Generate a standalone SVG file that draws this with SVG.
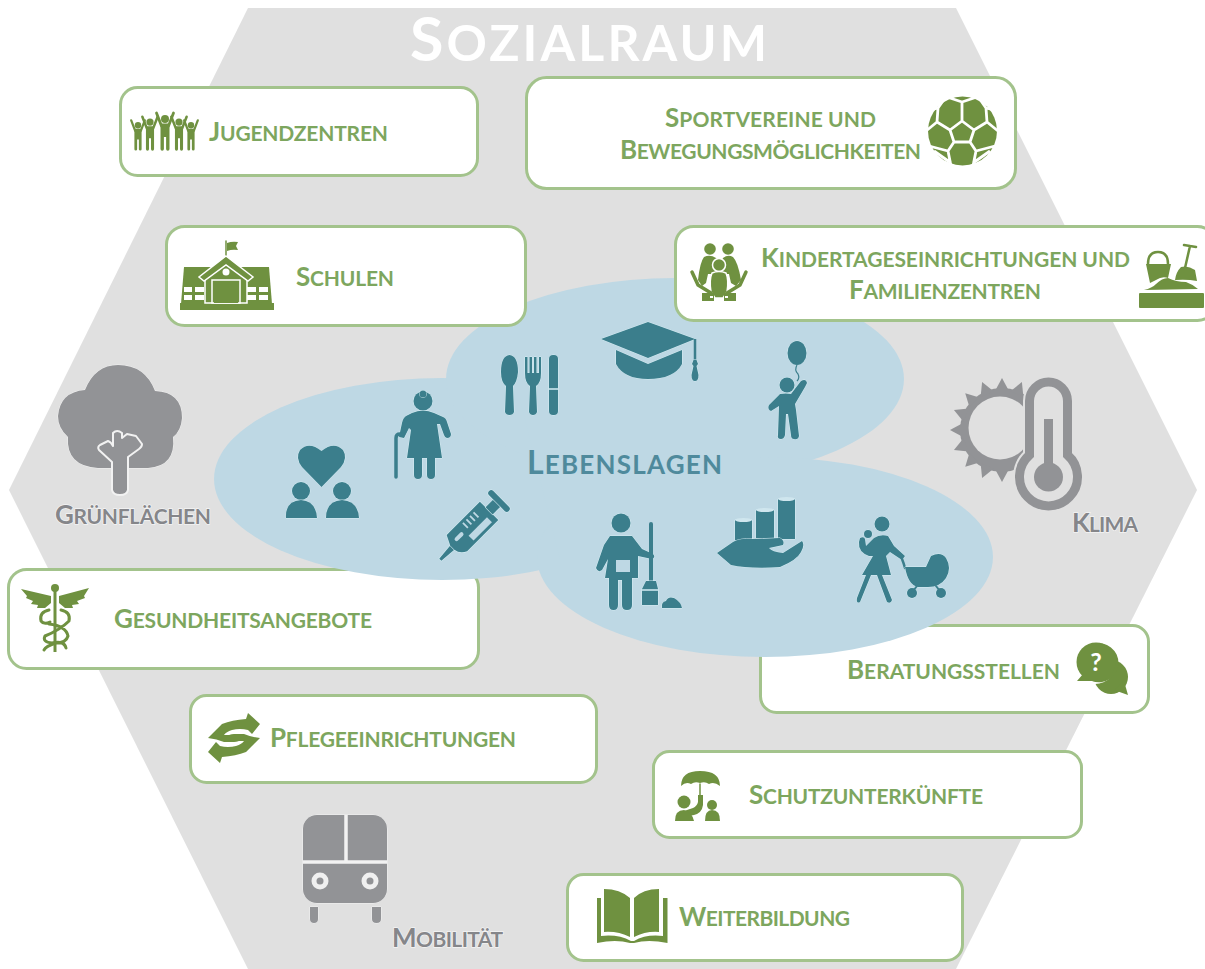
<svg xmlns="http://www.w3.org/2000/svg" xmlns:xlink="http://www.w3.org/1999/xlink" width="1205" height="969" viewBox="0 0 1205 969">
<style>
text{font-family:"Lato","Open Sans","Liberation Sans",sans-serif;font-weight:700}
.sc{text-transform:uppercase}
.lab{fill:#7da65e;font-size:26px}
.lab .sc,.grey .sc{font-size:21px}
.grey{fill:#85868a;font-size:26px;stroke:#f4f4f4;stroke-width:1.4px;paint-order:stroke}
.box{fill:#fff;stroke:#a3c38c;stroke-width:3}
.g{fill:#6f9140}
.gs{fill:none;stroke:#6f9140;stroke-linecap:round;stroke-linejoin:round}
.t{fill:#3b7e8c;stroke:#d6eef4;stroke-width:1;paint-order:stroke}
.ts{fill:none;stroke:#3b7e8c;stroke-linecap:round;stroke-linejoin:round}
.k{fill:#929396;stroke:#f2f2f2;stroke-width:1;paint-order:stroke}
</style>
<defs>
<g id="person"><circle cx="0" cy="-31" r="4"/><path d="M-4.500,-26.500H4.500V-1a1.700,1.700 0 0 1-3.400,0V-13H-1.100V-1a1.700,1.700 0 0 1-3.400,0Z"/><path d="M-3.500,-24L-8.500,-37M3.500,-24L8.500,-37" fill="none" stroke="#6f9140" stroke-width="2.800" stroke-linecap="round"/></g>
<path id="tooth" d="M1041,423L1054,430L1041,437Z"/>
<path id="carehand" d="M208,738L222,724Q232,720 246,719L248,713L260,724L252,734L248,730Q240,728 232,730Q226,732 224,735H238Q243,736 241,739Q239,742 234,742H224Q217,739 208,738Z"/>
</defs>

<polygon id="hexagon" points="248,8 956,8 1197,490 956,969 248,969 9,490" fill="#e0e0e0"/>
<text id="title" x="410" y="61" font-size="61" fill="#fff" textLength="357" lengthAdjust="spacing">S<tspan class="sc" font-size="50">ozialraum</tspan></text>

<g id="node-jugendzentren">
<rect class="box" x="120.500" y="87.500" width="357" height="88" rx="17"/>
<g class="g"><use href="#person" transform="translate(138,150) scale(.8)"/><use href="#person" transform="translate(191,150) scale(.8)"/><use href="#person" transform="translate(150,150) scale(.9)"/><use href="#person" transform="translate(179,150) scale(.9)"/><use href="#person" transform="translate(165,150)"/></g>
<text class="lab" x="209" y="141" textLength="179" lengthAdjust="spacing">J<tspan class="sc">ugendzentren</tspan></text>
</g>

<g id="node-sportvereine">
<rect class="box" x="526.500" y="77.500" width="489" height="111" rx="20"/>
<ellipse class="g" cx="962.500" cy="131" rx="34.500" ry="34.500"/>
<path d="M962,121L974,130L970,142L954,142L950,130Z M962,121V102M974,130L987,122M970,142L976,151M954,142L948,151M950,130L937,122M962,102L947,97M962,102L977,97M987,122L986,108L979,98M937,122L938,108L945,98M986,108L994,110M938,108L930,110M987,122L998,131M937,122L926,131M976,151L995,146M948,151L929,146M976,151L973,166M948,151L951,166M973,163L990,151M951,163L934,151" fill="none" stroke="#fff" stroke-width="2.800" stroke-linejoin="round"/>
<text class="lab" x="665" y="127" textLength="211" lengthAdjust="spacing">S<tspan class="sc">portvereine und</tspan></text>
<text class="lab" x="620" y="159" textLength="301" lengthAdjust="spacing">B<tspan class="sc">ewegungsmöglichkeiten</tspan></text>
</g>

<g id="node-gesundheitsangebote">
<rect class="box" x="8.500" y="569.500" width="470" height="99" rx="18"/>
<circle class="g" cx="55" cy="588" r="4"/>
<path class="g" d="M53.500,590h3V652h-3Z"/>
<path class="g" d="M51,596L21,589L27,596L26,598L33,601L31,604L38,605L37,608L45,608L51,603Z"/>
<path class="g" d="M59,596L89,588L84,596L85,598L77,601L79,604L72,605L73,608L65,608L59,603Z"/>
<path class="gs" stroke-width="3" d="M49,610Q39,612 41,621Q44,625 50,622M61,610Q71,612 69,621Q60,630 45,636Q42,642 52,643Q64,640 66,648M49,624Q66,626 68,636Q66,643 56,643Q46,646 44,650"/>
<text class="lab" x="114" y="628" textLength="258" lengthAdjust="spacing">G<tspan class="sc">esundheitsangebote</tspan></text>
</g>

<g id="node-beratungsstellen">
<rect class="box" x="760.500" y="625.500" width="388" height="87" rx="16"/>
<circle class="g" cx="1111" cy="677" r="17"/>
<path class="g" d="M1114,690L1128,695L1124,681Z"/>
<circle cx="1095" cy="662" r="22" fill="#fff"/>
<path class="g" d="M1077,681L1083,674A19.500,19.500 0 1 1 1092,681Z"/>
<circle class="g" cx="1096" cy="662" r="19.500"/>
<text x="1096" y="671" font-size="25" fill="#fff" text-anchor="middle">?</text>
<text class="lab" x="847" y="679" textLength="213" lengthAdjust="spacing">B<tspan class="sc">eratungsstellen</tspan></text>
</g>

<g id="lebenslagen-cloud" fill="#bed8e4">
<ellipse cx="442" cy="479" rx="228" ry="101"/>
<ellipse cx="675" cy="379" rx="229" ry="101"/>
<ellipse cx="765" cy="557" rx="228" ry="100"/>
<path d="M520,400H760V560H560Z"/>
</g>
<text id="lebenslagen" x="527" y="474" font-size="32" fill="#4f8a9c" textLength="195" lengthAdjust="spacing">L<tspan class="sc" font-size="26">ebenslagen</tspan></text>

<g id="icon-heart" class="t">
<path d="M321.500,487L302,467Q295,458 300,450Q309,441 321.500,451Q334,441 343,450Q348,458 341,467Z"/>
<circle cx="301" cy="491" r="9"/><path d="M286,518Q285,501 301,500Q316,501 317,518Z"/>
<circle cx="342" cy="491" r="9"/><path d="M326,518Q326,501 342,500Q358,501 359,518Z"/>
</g>
<g id="icon-grandma" class="t">
<circle cx="423" cy="401" r="9.500"/><circle cx="423" cy="394" r="3.500"/>
<path d="M412,413Q423,408 434,413L443,417Q446,418 447,422L451,434Q451,438 447,438Q445,438 444,435L440,424L437,424L442,458L435,458V475Q435,479 431,479Q427,479 427,475V458H422V475Q422,479 418,479Q414,479 414,475V458H407L411,430L409,428L404,438L399,437L402,423Q403,418 406,416Z"/>
<path class="ts" stroke-width="3.500" d="M396,477V438Q396,434 400,434H403"/>
</g>
<g id="icon-cutlery" class="t">
<path d="M509.500,355Q518,356 518,372Q517,382 513,386L514,412Q513,415 509.500,415Q506,415 505,412L506,386Q501,382 501,372Q501,356 509.500,355Z"/>
<path d="M525,357h2.500V373h2V357h2.500V373h2V357h2.500V373h2.500V357H541V373Q541,383 536,386L537,412Q536,415 533,415Q530,415 529,412L530,386Q525,383 525,373Z"/>
<rect x="549" y="355" width="9" height="60" rx="4"/>
<path d="M549,389H558" stroke="#d6eef4" stroke-width="1.500" fill="none"/>
</g>
<g id="icon-hat" class="t">
<path d="M616,350L648,364L682,350V364Q674,379 648,379Q624,379 616,364Z"/>
<path d="M648,322L695,339L648,358L601,339Z"/>
<path d="M695,339V362" fill="none" stroke="#3b7e8c" stroke-width="2.500"/>
<path d="M693.500,360h3l1.500,4l-1.500,2l2,9q0,6-3.500,6t-3.500-6l2-9l-1.500-2Z"/>
</g>
<g id="icon-child" class="t">
<ellipse cx="797" cy="353" rx="9.500" ry="12"/>
<path d="M797,365Q794,370 798,374Q800,378 797,381" fill="none" stroke="#3b7e8c" stroke-width="1.200"/>
<circle cx="787" cy="385" r="7.500"/>
<path d="M780,394Q786,393 791,394L801,381Q806,378 807,383L805,387L795,404L796,410L799,436Q798,440 794,439Q791,439 791,435L788,414H786L785,435Q784,439 781,439Q777,439 778,435L779,406L771,411Q767,409 769,405Z"/>
</g>
<g id="icon-syringe" class="t" transform="rotate(-45 470 530)">
<path d="M428,528.500L446,527V533L428,531.500Z"/>
<path d="M445,527L450,517H497V543H453Q446,540 445,533Z"/>
<path d="M497,525H508V535H497Z"/>
<rect x="508" y="516" width="6" height="28" rx="3"/>
<rect x="465" y="533" width="26" height="7" fill="#bed8e4" stroke="none"/>
<rect x="452" y="525" width="11" height="4" rx="2" fill="#bed8e4" stroke="none"/>
<path d="M470,520v7M475,520v7M480,520v7M485,520v7" stroke="#bed8e4" stroke-width="1.800" fill="none"/>
</g>
<g id="icon-cleaner" class="t">
<circle cx="621" cy="523" r="9.500"/>
<path d="M610,536H632L642,549L653,554Q656,557 652,559L638,556L638,578H632V605Q632,610 627,610Q622,610 622,605V580H618V605Q618,610 613.500,610Q609,610 609,605V578H605L608,559L602,570Q598,573 596,568L604,545Z"/>
<rect x="616" y="560" width="14" height="12" fill="#bed8e4" stroke="none"/>
<path class="ts" stroke-width="4" d="M651,524V582"/>
<path d="M646,581H656L658,589V605H642V589Z"/>
<path d="M642,590H658" stroke="#d6eef4" stroke-width="1.500" fill="none"/>
<path d="M662,608Q661,602 666,601Q668,596 674,598Q681,602 682,608Z"/>
</g>
<g id="icon-coins" class="t">
<path d="M735,520h17v20h-17Z"/><path d="M756,510h18v28h-18Z"/><path d="M778,499h17v40h-17Z"/>
<ellipse cx="743.500" cy="520" rx="8.500" ry="2" fill="#cfe6ee" stroke="none"/><ellipse cx="765" cy="510" rx="9" ry="2" fill="#cfe6ee" stroke="none"/><ellipse cx="786.500" cy="499" rx="8.500" ry="2" fill="#cfe6ee" stroke="none"/>
<path d="M717,553L733,542Q740,538 752,539L780,538Q785,541 783,545L769,548Q772,552 783,553L802,541Q805,545 801,552Q797,560 780,567Q750,569 731,565Z"/>
</g>
<g id="icon-mother" class="t">
<circle cx="882" cy="524" r="7.500"/><circle cx="868" cy="534" r="4"/>
<path d="M860,538Q864,536 865,539L866,546L874,538Q880,534 888,536L894,546L905,556L902,560L890,552L886,556L891,575L882,575L892,600Q891,604 887,602L877,575H871L860,602Q856,604 857,598L866,575H862L873,556L869,556Q858,552 859,542Z"/>
<path class="ts" stroke-width="2.500" d="M902,559Q904,564 905,568"/>
<path d="M905,567H926L931,556Q941,551 946,558Q952,568 946,578Q940,587 928,587H918Q908,585 905,567Z"/>
<circle cx="912" cy="593" r="5"/><circle cx="941" cy="593" r="5"/>
<path class="ts" stroke-width="2" d="M917,586L913,591M936,586L940,591"/>
</g>

<g id="node-schulen">
<rect class="box" x="166.500" y="226.500" width="359" height="99" rx="18"/>
<path class="g" d="M184,267H269L272,304H181Z"/><rect class="g" x="180" y="303" width="94" height="7"/>
<path class="gs" stroke-width="1.500" d="M226,241V257"/><path class="g" d="M227,243Q232,241 238,242L236,246L238,250Q232,249 227,251Z"/>
<path class="g" stroke="#fff" stroke-width="1.500" d="M226,263L247,279V303H205V279Z"/>
<path class="g" stroke="#fff" stroke-width="1.500" d="M226,256L253,277L248,281L226,265L204,281L199,277Z"/>
<circle cx="226" cy="272" r="3.500" fill="#fff"/>
<rect class="g" x="212" y="280" width="28" height="23" stroke="#fff" stroke-width="1.500"/>
<rect class="g" x="214" y="283" width="24" height="20"/>
<path fill="#fff" d="M184,287h8v5h-8zM195,287h9v5h-9zM184,295h8v5h-8zM195,295h9v5h-9zM247,287h9v5h-9zM259,287h9v5h-9zM247,295h9v5h-9zM259,295h9v5h-9z"/>
<text class="lab" x="296" y="286" textLength="98" lengthAdjust="spacing">S<tspan class="sc">chulen</tspan></text>
</g>

<g id="node-kindertageseinrichtungen">
<rect class="box" x="675.500" y="226.500" width="540" height="94" rx="18"/>
<circle class="g" cx="710" cy="249" r="5.800"/><circle class="g" cx="728" cy="249" r="5.800"/>
<path class="g" d="M704,257Q710,254 716,258L721,262L723,258Q728,254 733,257Q738,262 741,280L736,286L731,283L729,274L708,274L706,283L702,286L698,280Q700,262 704,257Z"/>
<circle class="g" cx="719" cy="265" r="6.500" stroke="#fff" stroke-width="1.500"/>
<path class="g" stroke="#fff" stroke-width="1.500" d="M712,273Q719,270 726,273Q729,280 727,292L723,298H715L711,292Q709,280 712,273Z"/>
<path class="gs" stroke-width="3.500" d="M692,272L698,285L711,293M746,272L740,285L727,293"/>
<path class="g" d="M702,293H714V301H702ZM724,293H736V301H724Z"/>
<path fill="#fff" d="M710,296h3v2h-3zM725,296h3v2h-3z"/>
<text class="lab" x="761" y="267" textLength="369" lengthAdjust="spacing">K<tspan class="sc">indertageseinrichtungen und</tspan></text>
<text class="lab" x="849" y="299" textLength="192" lengthAdjust="spacing">F<tspan class="sc">amilienzentren</tspan></text>
<rect class="g" x="1139" y="293" width="65" height="15" rx="1"/>
<path class="g" d="M1144,290Q1152,288 1156,284Q1162,278 1168,278Q1176,282 1186,282Q1192,284 1198,289Z"/>
<path class="gs" stroke-width="2.500" d="M1148,264Q1148,252 1158,252Q1168,252 1168,264"/>
<path class="g" d="M1146,264H1171L1168,278Q1162,276 1156,280L1150,283Z"/>
<path class="gs" stroke-width="2.500" d="M1190,246L1185,268M1184,245L1196,247"/>
<path class="g" d="M1181,267Q1188,265 1195,270L1197,281Q1187,279 1175,280Q1176,272 1181,267Z"/>
</g>

<g id="node-gruenflaechen">
<path class="k" d="M118,365Q145,365 155,391Q182,392 182,418Q181,431 173,437Q176,466 148,468H98Q66,466 68,437Q58,428 58,416Q60,392 85,390Q95,365 118,365Z"/>
<path fill="#929396" stroke="#f2f2f2" stroke-width="2" stroke-linejoin="round" d="M112,490V462L99,450Q97,447 100,445L108,441Q111,442 113,446V433Q117,429 122,433V438L127,434L136,436L142,444Q142,447 139,449L128,457V490Q127,495 120,495Q113,495 112,490Z"/>
<text class="grey" x="55" y="524" textLength="156" lengthAdjust="spacing">G<tspan class="sc">rünflächen</tspan></text>
</g>

<g id="node-klima">
<g fill="#929396">
<circle cx="1002" cy="430" r="42"/>
<use href="#tooth" transform="rotate(90 1002 430)"/><use href="#tooth" transform="rotate(112.500 1002 430)"/><use href="#tooth" transform="rotate(135 1002 430)"/><use href="#tooth" transform="rotate(157.500 1002 430)"/><use href="#tooth" transform="rotate(180 1002 430)"/><use href="#tooth" transform="rotate(202.500 1002 430)"/><use href="#tooth" transform="rotate(225 1002 430)"/><use href="#tooth" transform="rotate(247.500 1002 430)"/><use href="#tooth" transform="rotate(270 1002 430)"/><use href="#tooth" transform="rotate(292.500 1002 430)"/><use href="#tooth" transform="rotate(315 1002 430)"/>
</g>
<circle cx="1000" cy="428" r="31.500" fill="#e0e0e0"/>
<path d="M1029.500,401A19,19 0 0 1 1067.500,401V455A29,29 0 1 1 1029.500,455Z" fill="#e0e0e0" stroke="#e0e0e0" stroke-width="13"/>
<path d="M1029.500,401A19,19 0 0 1 1067.500,401V455A29,29 0 1 1 1029.500,455Z" fill="#e0e0e0" stroke="#929396" stroke-width="9"/>
<rect x="1044" y="419" width="9" height="50" fill="#929396"/>
<circle cx="1048.500" cy="477" r="14.500" fill="#929396"/>
<text class="grey" x="1072" y="532" textLength="66" lengthAdjust="spacing">K<tspan class="sc">lima</tspan></text>
</g>

<g id="node-pflegeeinrichtungen">
<rect class="box" x="190.500" y="695.500" width="406" height="87" rx="16"/>
<use href="#carehand" class="g"/>
<use href="#carehand" class="g" transform="rotate(180 234 738)"/>
<text class="lab" x="270" y="747" textLength="246" lengthAdjust="spacing">P<tspan class="sc">flegeeinrichtungen</tspan></text>
</g>

<g id="node-schutzunterkuenfte">
<rect class="box" x="653.500" y="751.500" width="428" height="86" rx="16"/>
<path class="g" d="M681,786Q681,771 700,771Q720,771 720,786Q714,781 709,784Q705,781 700,783Q695,781 691,784Q686,781 681,786Z"/>
<path class="gs" stroke-width="1.500" d="M700,784V796"/>
<path class="g" d="M698,795h5V805Q702,813 694,815L689,816L684,811L693,808Q697,806 698,802Z"/>
<circle class="g" cx="684" cy="802" r="6.500"/>
<path class="g" d="M675,821Q675,810 684,810Q692,812 694,821Z"/>
<circle class="g" cx="712" cy="805" r="5"/>
<path class="g" d="M705,821Q705,810 712,810Q720,810 720,821Z"/>
<text class="lab" x="749" y="804" textLength="234" lengthAdjust="spacing">S<tspan class="sc">chutzunterkünfte</tspan></text>
</g>

<g id="node-weiterbildung">
<rect class="box" x="567.500" y="874.500" width="395" height="86" rx="16"/>
<path class="g" d="M604,889Q620,889 630,898V937Q618,931 604,932Z"/>
<path class="g" d="M659,889Q643,889 634,898V937Q646,931 659,932Z"/>
<path class="g" d="M597,898H601V936Q618,934 631,941H634Q646,934 663,936V898H667.500V943Q648,939 634,943H630Q616,939 597,943Z"/>
<text class="lab" x="679" y="926" textLength="171" lengthAdjust="spacing">W<tspan class="sc">eiterbildung</tspan></text>
</g>

<g id="node-mobilitaet">
<rect class="k" x="303" y="815" width="84" height="88" rx="14"/>
<path d="M346,815V862M303,862H387" stroke="#f2f2f2" stroke-width="3.500" fill="none"/>
<circle cx="320" cy="881" r="8.500" fill="#f0f0f0"/><circle cx="320" cy="881" r="3.500" fill="#929396"/>
<circle cx="370" cy="881" r="8.500" fill="#f0f0f0"/><circle cx="370" cy="881" r="3.500" fill="#929396"/>
<path class="k" d="M310,907H318V919Q318,923 314,923Q310,923 310,919Z"/>
<path class="k" d="M372,907H381V919Q381,923 376.500,923Q372,923 372,919Z"/>
<text class="grey" x="392" y="947" textLength="111" lengthAdjust="spacing">M<tspan class="sc">obilität</tspan></text>
</g>
</svg>
